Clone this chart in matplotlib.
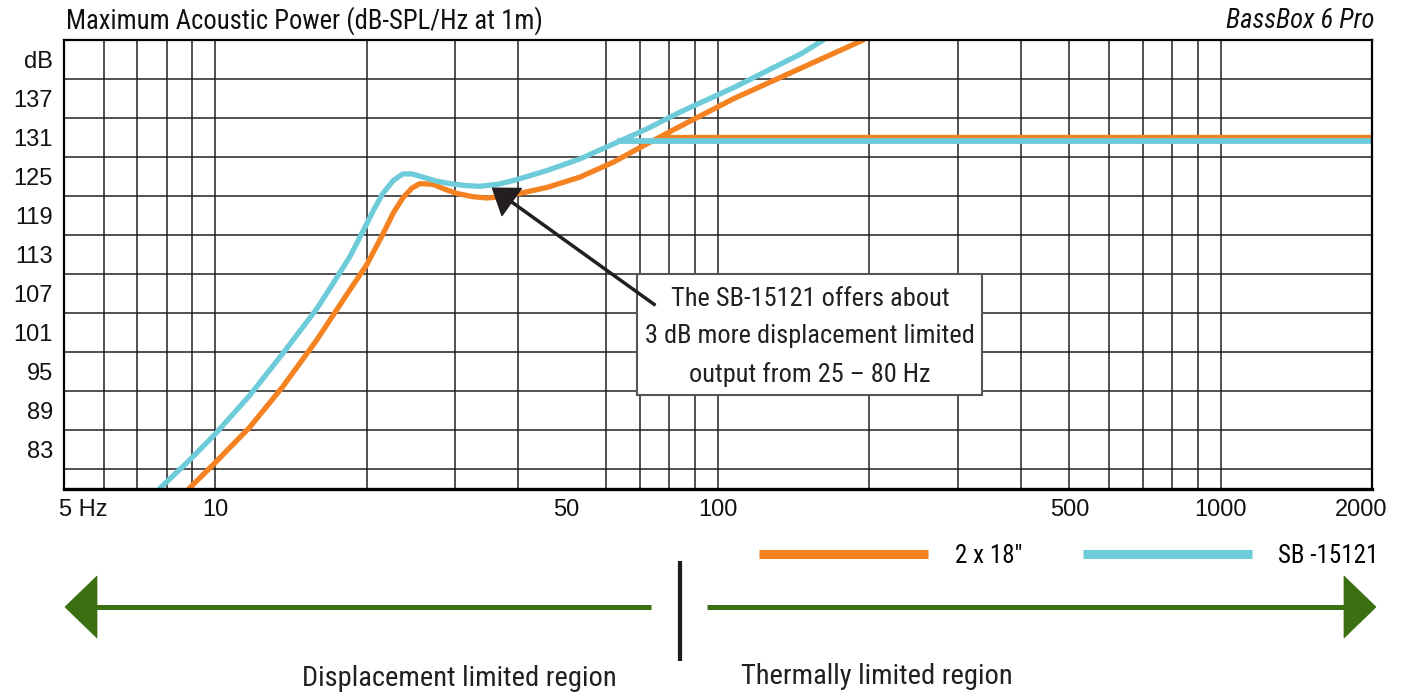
import matplotlib
matplotlib.use("Agg")
import matplotlib.pyplot as plt
import matplotlib.transforms as mtransforms
from matplotlib import font_manager
from matplotlib.patches import Rectangle, Polygon
from matplotlib.lines import Line2D

# ---------------- data ----------------
freq_sb = [7.75, 8.87, 10.0, 11.7, 13.6, 15.9, 17.1, 18.5, 19.2, 20.0, 20.7, 21.5,
           22.6, 23.6, 24.6, 25.9, 27.5, 29.3, 31.5, 33.6, 36.5, 39.7, 45.6, 53.1,
           61.9, 72.1, 84.0, 107.6, 146.5, 162.0]
spl_sb = [77.0, 81.3, 85.4, 91.3, 97.7, 104.6, 108.4, 112.6, 115.0, 117.7, 120.0, 122.3,
          124.4, 125.4, 125.4, 124.9, 124.3, 123.9, 123.6, 123.5, 123.8, 124.5, 125.9, 127.7,
          130.0, 132.3, 134.9, 138.7, 143.9, 146.0]
thermal_sb = 130.4
thermal_start_sb = 63.0

freq_18 = [8.87, 10.0, 11.7, 13.6, 15.9, 18.5, 20.0, 21.5, 22.6, 23.6, 24.6, 25.5,
           27.1, 28.5, 30.2, 32.5, 34.6, 37.5, 40.3, 45.6, 53.1, 61.9, 72.1, 84.0,
           107.6, 146.5, 194.5]
spl_18 = [77.0, 81.0, 86.4, 92.6, 99.8, 107.5, 111.4, 116.0, 119.4, 121.7, 123.2, 123.9,
          123.8, 123.1, 122.4, 121.9, 121.7, 121.9, 122.4, 123.3, 124.9, 127.2, 130.0, 132.7,
          137.0, 141.7, 146.0]
thermal_18 = 131.05
thermal_start_18 = 76.5

x_tick_vals = [5, 10, 50, 100, 500, 1000, 2000]
x_tick_labels = ["5 Hz", "10", "50", "100", "500", "1000", "2000"]
x_grid = [6, 7, 8, 9, 10, 20, 30, 40, 60, 70, 80, 90, 100,
          200, 300, 400, 500, 600, 700, 800, 900, 1000]
y_tick_vals = [83, 89, 95, 101, 107, 113, 119, 125, 131, 137, 143]
y_tick_labels = ["83", "89", "95", "101", "107", "113", "119", "125", "131", "137", "dB"]
y_grid = list(range(80, 146, 3))

series_labels = ['2 x 18\u2033', "SB -15121"]
title = "Maximum Acoustic Power (dB-SPL/Hz at 1m)"
brand = "BassBox 6 Pro"
note = "The SB-15121 offers about\n3 dB more displacement limited\noutput from 25 \u2013 80 Hz"
note_target = (35.6, 123.2)
region_left = "Displacement limited region"
region_right = "Thermally limited region"

# ---------------- style ----------------
ORANGE = "#F58220"
BLUE = "#6ECBD9"
GREEN = "#3B6F12"

avail = {f.name for f in font_manager.fontManager.ttflist}
narrow = None
for cand in ["Roboto Condensed", "Liberation Sans Narrow", "Open Sans Condensed",
             "Lato", "Roboto", "DejaVu Sans"]:
    if cand in avail:
        narrow = cand
        break
arialish = "Liberation Sans" if "Liberation Sans" in avail else "DejaVu Sans"
plt.rcParams["font.family"] = [narrow, "DejaVu Sans"]

W, H = 1408, 696
fig = plt.figure(figsize=(W / 100, H / 100), dpi=100)
pix = mtransforms.Affine2D().scale(1 / W, -1 / H).translate(0, 1) + fig.transFigure

L, T, R, B = 64, 40, 1372, 488.5
ax = fig.add_axes([L / W, 1 - B / H, (R - L) / W, (B - T) / H])
ax.set_xscale("log")
ax.set_xlim(5, 2000)
ax.set_ylim(77, 146)

# grid
ax.set_xticks(x_grid, minor=True)
ax.set_xticks([])
ax.xaxis.set_minor_formatter(matplotlib.ticker.NullFormatter())
ax.set_yticks(y_grid, minor=True)
ax.set_yticks(y_tick_vals)
ax.set_yticklabels(y_tick_labels, fontfamily=arialish, fontsize=17, color="#111111")
ax.tick_params(which="both", length=0)
ax.tick_params(axis="y", pad=8)
ax.grid(which="minor", color="#222222", lw=1.1)
ax.grid(which="major", visible=False)
ax.set_axisbelow(True)
for s in ax.spines.values():
    s.set_linewidth(1.6)
    s.set_color("black")
ax.spines["bottom"].set_linewidth(2.4)

# x labels
offsets = {"5 Hz": 19, "2000": -11}
for v, lab in zip(x_tick_vals, x_tick_labels):
    dx = offsets.get(lab, 0)
    tr = mtransforms.blended_transform_factory(ax.transData, ax.transAxes) + \
        mtransforms.ScaledTranslation(dx / 100, -21 / 100, fig.dpi_scale_trans)
    ax.text(v, 0, lab, transform=tr, ha="center", va="center",
            fontfamily=arialish, fontsize=17, color="#111111")

# curves
ax.plot(freq_18, spl_18, color=ORANGE, lw=3.8, solid_capstyle="round",
        solid_joinstyle="round", zorder=2)
ax.plot([thermal_start_18, 2000], [thermal_18, thermal_18], color=ORANGE, lw=3.8,
        solid_capstyle="butt", zorder=2, clip_on=False)
ax.plot(freq_sb, spl_sb, color=BLUE, lw=3.8, solid_capstyle="round",
        solid_joinstyle="round", zorder=2.1)
ax.plot([thermal_start_sb, 2000], [thermal_sb, thermal_sb], color=BLUE, lw=4.2,
        solid_capstyle="butt", zorder=2.1, clip_on=False)

# annotation box + arrow
ax.add_patch(Rectangle((637, 395), 345, -121, transform=pix, facecolor="white",
                       edgecolor="#555555", lw=1.5, clip_on=False, zorder=4))
ax.text(810, 337, note, transform=pix, ha="center", va="center", fontsize=19,
        linespacing=1.72, color="#231f20", zorder=6)
ax.annotate("", xy=note_target, xycoords="data", xytext=(655, 305), textcoords=pix,
            arrowprops=dict(width=1.5, headwidth=24, headlength=17,
                            facecolor="#231f20", edgecolor="#231f20", shrink=0),
            zorder=5, annotation_clip=False)

# titles
fig.text(66 / W, 1 - 21 / H, title, ha="left", va="center", fontsize=19.2, color="#111111")
fig.text(1374 / W, 1 - 21 / H, brand, ha="right", va="center", fontsize=19.2,
         style="italic", color="#111111")

# legend
handles = [Line2D([], [], color=ORANGE, lw=6.5, solid_capstyle="butt"),
           Line2D([], [], color=BLUE, lw=6.5, solid_capstyle="butt")]
fig.legend(handles, series_labels, loc="center left",
           bbox_to_anchor=(759 / W, 1 - 556 / H), ncol=2, frameon=False,
           fontsize=18, handlelength=6.76, handletextpad=1.08, columnspacing=2.4,
           borderpad=0, borderaxespad=0)

# region arrows
fig.add_artist(Line2D([95, 651], [607, 607], transform=pix, color=GREEN, lw=3.6,
                      solid_capstyle="butt"))
fig.add_artist(Polygon([[65, 607], [97, 576], [97, 638]], closed=True, transform=pix,
                       facecolor=GREEN, edgecolor=GREEN, lw=0.5))
fig.add_artist(Line2D([707, 1347], [607, 607], transform=pix, color=GREEN, lw=3.6,
                      solid_capstyle="butt"))
fig.add_artist(Polygon([[1376, 607], [1344, 576], [1344, 638]], closed=True, transform=pix,
                       facecolor=GREEN, edgecolor=GREEN, lw=0.5))
fig.add_artist(Line2D([680, 680], [561, 661], transform=pix, color="#1a1a1a", lw=3.0,
                      solid_capstyle="butt"))
fig.text(459 / W, 1 - 678 / H, region_left, ha="center", va="center", fontsize=20.5,
         color="#231f20")
fig.text(877 / W, 1 - 676 / H, region_right, ha="center", va="center", fontsize=20.5,
         color="#231f20")

fig.savefig("out.png", dpi=100)
